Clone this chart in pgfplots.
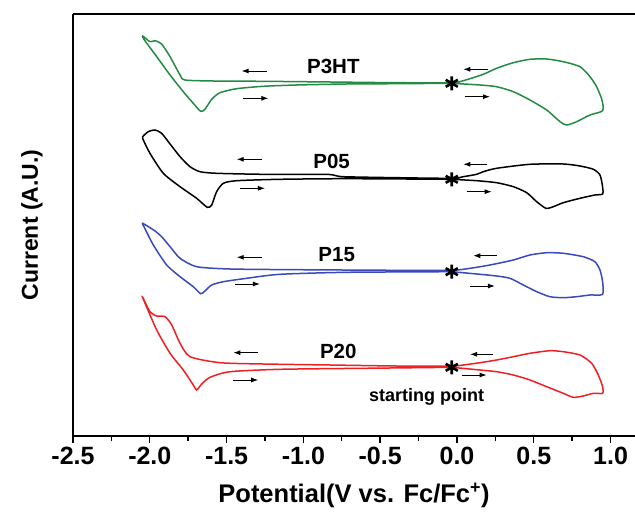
\documentclass[border=0pt]{standalone}
\usepackage{fontspec}
\setmainfont{Liberation Sans}
\usepackage{pgfplots}
\pgfplotsset{compat=1.18}
\usetikzlibrary{arrows.meta}
\definecolor{cgreen}{RGB}{34,139,68}
\definecolor{cblue}{RGB}{55,75,185}
\definecolor{cred}{RGB}{238,32,36}
\begin{document}
\begin{tikzpicture}
\begin{axis}[name=ax, scale only axis, width=562pt, height=422pt,
  xmin=-2.5, xmax=1.159, ymin=0, ymax=422,
  axis x line=bottom, axis y line=left,
  axis line style={-, line width=1.6pt},
  xtick={-2.5,-2.0,-1.5,-1.0,-0.5,0,0.5,1.0},
  xticklabels={-2.5,-2.0,-1.5,-1.0,-0.5,0.0,0.5,1.0},
  minor x tick num=1, ytick=\empty,
  tick align=outside, major tick length=7pt, minor tick length=5pt,
  every tick/.style={line width=1.4pt, black},
  xticklabel style={font=\bfseries\fontsize{25}{25}\selectfont, yshift=-1pt},
  clip=false]
% P3HT (green)
\addplot[cgreen, line width=1.5pt, smooth, tension=0.4] coordinates {
(-0.034,352.7) (0.150,351) (0.258,349.3) (0.367,344.3) (0.475,336) (0.584,326) (0.671,314.3) (0.714,311) (0.779,314.3) (0.866,321) (0.948,325.3)
(0.944,336) (0.909,349.3) (0.866,359.3) (0.801,369.3) (0.692,374.3) (0.584,377) (0.475,376.7) (0.367,373.3) (0.258,367.7) (0.171,361.7) (0.041,355.3) (-0.034,353.3)
(-0.393,353.3) (-0.827,354) (-1.261,354.7) (-1.586,355) (-1.771,356) (-1.803,361) (-1.868,379.3) (-1.923,392) (-1.966,395.3) (-1.999,394.3) (-2.046,400)
(-2.038,396.7) (-1.955,379.3) (-1.868,361) (-1.782,344.3) (-1.717,332.7) (-1.669,324.7) (-1.641,326.7) (-1.597,336.7) (-1.543,343.3) (-1.434,347.3) (-1.261,349.7) (-1.044,351) (-0.718,352) (-0.393,352.3) (-0.034,352.7)
};
% P05 (black)
\addplot[black, line width=1.5pt, smooth, tension=0.4] coordinates {
(-0.034,256.7) (0.128,255.3) (0.258,253.3) (0.367,249.3) (0.454,243.3) (0.519,234.3) (0.579,227.7) (0.627,229.3) (0.692,233.3) (0.801,237.7) (0.898,241) (0.948,242)
(0.948,249.3) (0.931,261) (0.888,266.7) (0.801,270) (0.692,272) (0.475,271.7) (0.258,267.7) (0.171,264.3) (0.128,261.7) (0.041,259.3) (-0.034,257.7)
(-0.393,258.3) (-0.740,259.3) (-0.805,261) (-0.870,261.7) (-1.261,261.7) (-1.565,262.7) (-1.673,264.3) (-1.738,269.3) (-1.803,279.3) (-1.868,292) (-1.923,302.7) (-1.966,306) (-2.010,304.3) (-2.046,299.3) (-2.042,296)
(-1.999,282.7) (-1.912,262.7) (-1.803,249.3) (-1.695,237.7) (-1.626,228.7) (-1.597,231) (-1.565,244.3) (-1.521,252.7) (-1.434,255.3) (-1.152,256.7) (-0.718,257.3) (-0.034,256.7)
};
% P15 (blue)
\addplot[cblue, line width=1.5pt, smooth, tension=0.4] coordinates {
(-0.034,164.3) (0.150,161.7) (0.258,160) (0.345,157.7) (0.432,151) (0.519,144.3) (0.605,139.3) (0.692,138.3) (0.779,139.3) (0.866,141) (0.948,141.7)
(0.948,154.3) (0.931,166) (0.898,174.3) (0.822,179.3) (0.692,182.7) (0.584,183.3) (0.475,181) (0.367,176) (0.215,171) (0.085,167.7) (-0.034,165.7)
(-0.393,165.7) (-1.044,166.3) (-1.478,167) (-1.695,169.3) (-1.803,177.7) (-1.868,189.3) (-1.923,199.3) (-1.966,205) (-2.046,212.7)
(-2.038,209.3) (-1.977,191) (-1.890,171) (-1.803,159.3) (-1.717,149.3) (-1.669,142.3) (-1.641,145) (-1.597,151) (-1.521,154.3) (-1.369,157.7) (-1.152,161.7) (-0.718,163.7) (-0.034,164.3)
};
% P20 (red)
\addplot[cred, line width=1.5pt, smooth, tension=0.4] coordinates {
(-0.034,68.7) (0.150,66) (0.258,64.3) (0.367,61) (0.475,56) (0.584,49.3) (0.692,42.7) (0.757,38.7) (0.822,40) (0.888,42.7) (0.948,42.7)
(0.948,49.3) (0.920,61) (0.877,72.7) (0.801,81) (0.692,84.3) (0.605,85.3) (0.475,82.7) (0.367,79.3) (0.258,76) (0.150,73.3) (0.041,71) (-0.034,70)
(-0.393,70) (-0.827,71) (-1.261,72) (-1.543,73.3) (-1.738,79.3) (-1.803,92.7) (-1.857,111) (-1.901,119.3) (-1.955,120) (-1.999,124.3) (-2.046,138.7)
(-2.038,135.3) (-1.955,106) (-1.868,82.7) (-1.782,66) (-1.717,51) (-1.695,46) (-1.662,52) (-1.608,58.7) (-1.478,64.3) (-1.152,66.7) (-0.610,67.7) (-0.034,68.7)
};
% starting points
\addplot[only marks, mark=asterisk, mark size=7pt, line width=2.6pt, black] coordinates {
(-0.034,352.7) (-0.034,256.7) (-0.034,164.3) (-0.034,68.7)};
% labels
\node[font=\bfseries\fontsize{20.5}{20.5}\selectfont] at (axis cs:-0.805,369.3) {P3HT};
\node[font=\bfseries\fontsize{20.5}{20.5}\selectfont] at (axis cs:-0.816,274.3) {P05};
\node[font=\bfseries\fontsize{20.5}{20.5}\selectfont] at (axis cs:-0.783,181.7) {P15};
\node[font=\bfseries\fontsize{20.5}{20.5}\selectfont] at (axis cs:-0.773,85) {P20};
\node[font=\bfseries\fontsize{18}{18}\selectfont] at (axis cs:-0.197,39.3) {starting point};
% arrows
\begin{scope}[line width=0.9pt, -{Latex[length=7pt,width=5pt]}]
\draw (axis cs:-1.239,365) -- (axis cs:-1.402,365);
\draw (axis cs:-1.391,337.7) -- (axis cs:-1.228,337.7);
\draw (axis cs:0.204,366.7) -- (axis cs:0.041,366.7);
\draw (axis cs:0.052,339.3) -- (axis cs:0.215,339.3);
\draw (axis cs:-1.272,276.7) -- (axis cs:-1.434,276.7);
\draw (axis cs:-1.413,247.7) -- (axis cs:-1.250,247.7);
\draw (axis cs:0.197,271.7) -- (axis cs:0.041,271.7);
\draw (axis cs:0.063,244.3) -- (axis cs:0.226,244.3);
\draw (axis cs:-1.272,178.7) -- (axis cs:-1.434,178.7);
\draw (axis cs:-1.445,152) -- (axis cs:-1.283,152);
\draw (axis cs:0.258,180.3) -- (axis cs:0.106,180.3);
\draw (axis cs:0.085,150) -- (axis cs:0.247,150);
\draw (axis cs:-1.294,83.3) -- (axis cs:-1.456,83.3);
\draw (axis cs:-1.456,56) -- (axis cs:-1.294,56);
\draw (axis cs:0.236,81.7) -- (axis cs:0.085,81.7);
\draw (axis cs:0.030,61) -- (axis cs:0.193,61);
\end{scope}
\end{axis}
\draw[line width=1.6pt] (ax.north west) -- (ax.north east);
\node[font=\bfseries\fontsize{25.5}{25.5}\selectfont] at ([yshift=-59pt]ax.south) {Potential(V vs. Fc/Fc\textsuperscript{+})};
\node[rotate=90, font=\bfseries\fontsize{23}{23}\selectfont] at ([xshift=-41pt]ax.west) {Current (A.U.)};
\pgfresetboundingbox
\path ([xshift=-73pt,yshift=-84pt]ax.south west) rectangle ([yshift=14pt]ax.north east);
\end{tikzpicture}
\end{document}
